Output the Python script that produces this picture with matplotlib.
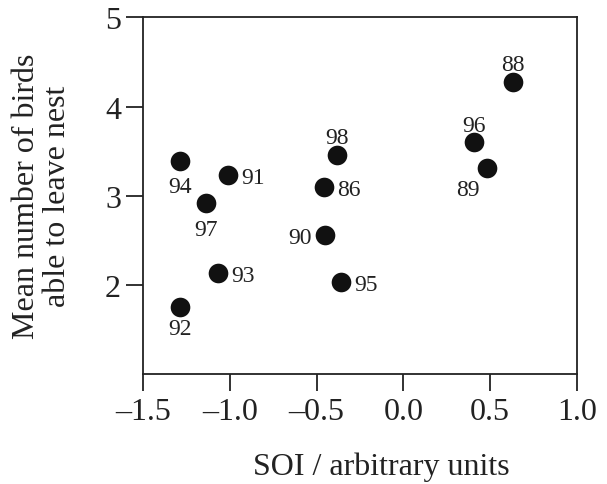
import matplotlib
matplotlib.use("Agg")
import matplotlib.pyplot as plt

# breeding seasons (year labels), SOI and mean number of fledglings
years = ["88", "96", "89", "98", "86", "90", "95", "94", "91", "97", "93", "92"]
soi = [0.63, 0.41, 0.48, -0.38, -0.46, -0.45, -0.36, -1.29, -1.01, -1.14, -1.07, -1.29]
birds = [4.28, 3.60, 3.31, 3.46, 3.10, 2.56, 2.03, 3.39, 3.23, 2.92, 2.13, 1.75]

xticks = [-1.5, -1.0, -0.5, 0.0, 0.5, 1.0]
yticks = [2, 3, 4, 5]

# label placement next to each dot: (dx, dy) in points, horizontal alignment
lab_off = {"88": (0, 8.6, 'center'), "96": (0, 8, 'center'), "98": (0, 8.3, 'center'),
           "89": (-13.7, -19.4, 'center'),
           "94": (0, -22, 'center'), "97": (0, -23, 'center'), "92": (0, -19.4, 'center'),
           "86": (9.6, -5.8, 'left'), "95": (9.6, -5.8, 'left'),
           "91": (9.6, -5.8, 'left'), "93": (9.6, -5.8, 'left'),
           "90": (-9.6, -5.8, 'right')}

plt.rcParams['font.family'] = ['Liberation Serif', 'DejaVu Serif']

fig = plt.figure(figsize=(6.07, 4.85), dpi=100)
ax = fig.add_axes([0.2361, 0.2262, 0.714, 0.7361])

ax.scatter(soi, birds, s=200, color='#111111', zorder=3, linewidths=0)

for yr, x, y in zip(years, soi, birds):
    dx, dy, ha = lab_off[yr]
    ax.annotate(yr, (x, y), xytext=(dx, dy), textcoords='offset points',
                ha=ha, va='baseline', fontsize=17, color='#222222')

ax.set_xlim(-1.5, 1.0)
ax.set_ylim(1.0, 5.0)
ax.set_xticks(xticks)
ax.set_xticklabels(["\u2013" + f"{abs(t):.1f}" if t < 0 else f"{t:.1f}" for t in xticks])
ax.set_yticks(yticks)
ax.tick_params(direction='out', length=12, width=1.3, labelsize=23, pad=4, colors='#222222')
for s in ax.spines.values():
    s.set_linewidth(1.3)
    s.set_color('#222222')

ax.set_xlabel("SOI / arbitrary units", fontsize=23, color='#222222')
ax.xaxis.set_label_coords(0.548, -0.215)
ax.set_ylabel("Mean number of birds\nable to leave nest", fontsize=23, color='#222222',
              linespacing=1.1)
ax.yaxis.set_label_coords(-0.1645, 0.5)

fig.savefig("out.png", dpi=100)
